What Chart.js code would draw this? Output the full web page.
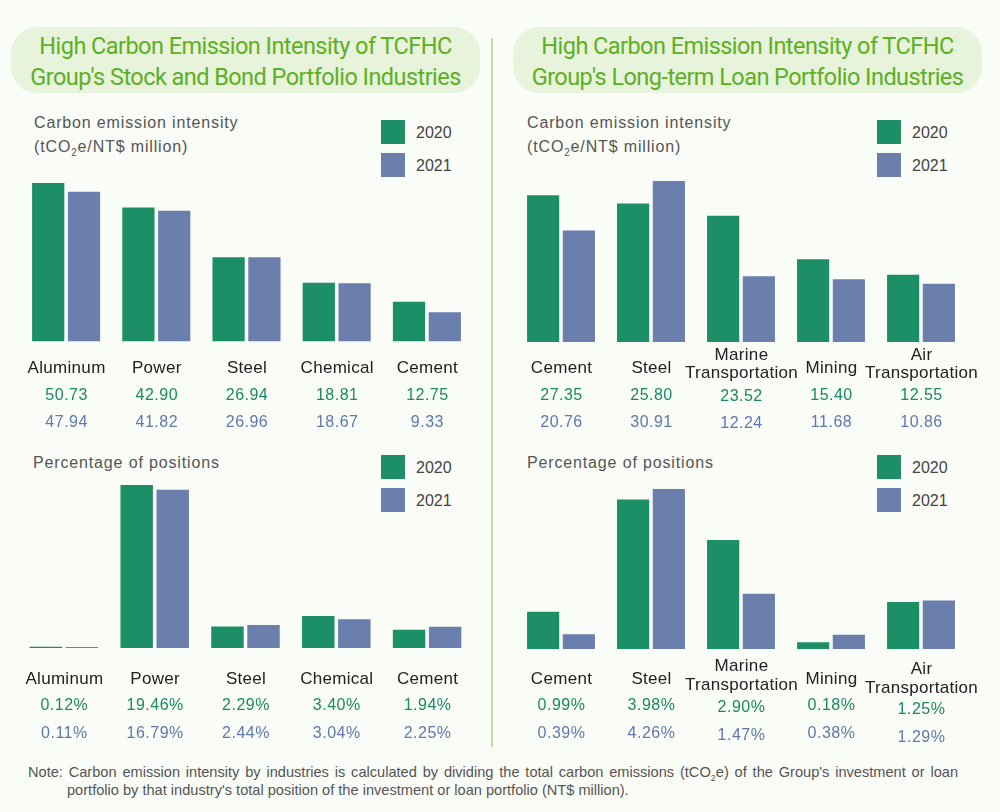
<!DOCTYPE html>
<html lang="en">
<head>
<meta charset="UTF-8">
<title>High Carbon Emission Intensity</title>
<script src="https://cdn.jsdelivr.net/npm/chart.js"></script>
<style>
  html, body { margin: 0; padding: 0; background: #fafcf7; }
  body { width: 1000px; height: 812px; position: relative; overflow: hidden; font-family: "Liberation Sans", sans-serif; }
  canvas { position: absolute; }
  .pill { position: absolute; top: 27px; height: 66px; width: 469px; border-radius: 26px; background: #e8f3dc; color: #5cb021;
          font-family: Roboto, sans-serif; font-size: 23.5px; letter-spacing: -0.55px; line-height: 31px; text-align: center; padding-top: 4px; box-sizing: border-box; white-space: nowrap; }
  .divider { position: absolute; left: 491px; top: 38px; width: 1.6px; height: 709px; background: #bfdda5; }
  .axis-title { position: absolute; color: #555; font-size: 16px; line-height: 24px; letter-spacing: 0.85px; white-space: nowrap; }
  .axis-title sub { font-size: 10px; line-height: 0; }
  .swatch { position: absolute; width: 24px; height: 24px; }
  .legend-text { position: absolute; color: #444; font-size: 16px; line-height: 24px; }
  .note { position: absolute; color: #555; font-size: 14.6px; line-height: 18px; white-space: nowrap; }
  .note sub { font-size: 9px; line-height: 0; }
</style>
</head>
<body>
  <div class="pill" style="left:11px">High Carbon Emission Intensity of TCFHC<br>Group's Stock and Bond Portfolio Industries</div>
  <div class="pill" style="left:513px">High Carbon Emission Intensity of TCFHC<br>Group's Long-term Loan Portfolio Industries</div>
  <div class="divider"></div>

  <div class="axis-title" style="left:34px;top:111px">Carbon emission intensity<br>(tCO<sub>2</sub>e/NT$ million)</div>
  <div class="axis-title" style="left:527px;top:111px">Carbon emission intensity<br>(tCO<sub>2</sub>e/NT$ million)</div>
  <div class="axis-title" style="left:33px;top:451px">Percentage of positions</div>
  <div class="axis-title" style="left:527px;top:451px">Percentage of positions</div>

  <div id="legends"></div>

  <canvas id="stockIntensity" width="490" height="340" style="left:1px;top:100px"></canvas>
  <canvas id="loanIntensity" width="490" height="340" style="left:496px;top:100px"></canvas>
  <canvas id="stockShare" width="490" height="310" style="left:0px;top:440px"></canvas>
  <canvas id="loanShare" width="490" height="310" style="left:496px;top:440px"></canvas>

  <div class="note" style="left:28px;top:763px;width:930px;text-align:justify;text-align-last:justify;white-space:normal">Note: Carbon emission intensity by industries is calculated by dividing the total carbon emissions (tCO<sub>2</sub>e) of the Group's investment or loan</div>
  <div class="note" style="left:67px;top:781px">portfolio by that industry's total position of the investment or loan portfolio (NT$ million).</div>

  <script>
    const years = ['2020', '2021'];
    const stockCategories = ['Aluminum', 'Power', 'Steel', 'Chemical', 'Cement'];
    const loanCategories = ['Cement', 'Steel', ['Marine', 'Transportation'], 'Mining', ['Air', 'Transportation']];

    const stockIntensity2020 = [50.73, 42.90, 26.94, 18.81, 12.75];
    const stockIntensity2021 = [47.94, 41.82, 26.96, 18.67, 9.33];
    const loanIntensity2020 = [27.35, 25.80, 23.52, 15.40, 12.55];
    const loanIntensity2021 = [20.76, 30.91, 12.24, 11.68, 10.86];
    const stockShare2020 = [0.12, 19.46, 2.29, 3.40, 1.94];
    const stockShare2021 = [0.11, 16.79, 2.44, 3.04, 2.25];
    const loanShare2020 = [0.99, 3.98, 2.90, 0.18, 1.25];
    const loanShare2021 = [0.39, 4.26, 1.47, 0.38, 1.29];

    const GREEN = '#1c8f66';
    const BLUE = '#6a7fae';
    const GREEN_TEXT = '#1a8a5f';
    const BLUE_TEXT = '#5f78ae';

    // legends, same spot in every panel
    const legends = document.getElementById('legends');
    [[381, 120], [877, 120], [381, 455], [877, 455]].forEach(([x, y]) => {
      years.forEach((yr, i) => {
        const box = document.createElement('div');
        box.className = 'swatch';
        box.style.cssText = `left:${x}px;top:${y + i * 33}px;background:${i ? BLUE : GREEN}`;
        legends.appendChild(box);
        const txt = document.createElement('div');
        txt.className = 'legend-text';
        txt.style.cssText = `left:${x + 35}px;top:${y + 1 + i * 33}px`;
        txt.textContent = yr;
        legends.appendChild(txt);
      });
    });

    // category names and printed values under the bars
    const underLabels = {
      id: 'underLabels',
      afterDraw(chart, args, opts) {
        const { ctx } = chart;
        const x = chart.scales.x;
        ctx.save();
        ctx.textAlign = 'center';
        ctx.textBaseline = 'middle';
        chart.data.labels.forEach((label, i) => {
          const cx = x.getPixelForTick(i) + 0.5;
          const shift = opts.shifts[i] || 0;
          ctx.font = '17px "Liberation Sans"';
          ctx.letterSpacing = '0.3px';
          ctx.fillStyle = '#222';
          if (Array.isArray(label)) {
            ctx.fillText(label[0], cx, opts.pairY[0] + (opts.pairShift[i] || 0));
            ctx.fillText(label[1], cx, opts.pairY[1] + (opts.pairShift[i] || 0));
          } else {
            ctx.fillText(label, cx, opts.nameY);
          }
          ctx.font = '16px "Liberation Sans"';
          ctx.letterSpacing = '0.5px';
          chart.data.datasets.forEach((ds, d) => {
            ctx.fillStyle = d ? BLUE_TEXT : GREEN_TEXT;
            ctx.fillText(ds.data[i].toFixed(2) + opts.suffix, cx, opts.rowY[d] + shift);
          });
        });
        ctx.restore();
      }
    };

    function makePanel(id, labels, first, second, cfg) {
      const canvas = document.getElementById(id);
      new Chart(canvas, {
        type: 'bar',
        data: {
          labels,
          datasets: [
            { label: years[0], data: first, backgroundColor: GREEN, clip: 0 },
            { label: years[1], data: second, backgroundColor: BLUE, clip: 0 }
          ]
        },
        plugins: [underLabels],
        options: {
          responsive: false,
          animation: false,
          categoryPercentage: 0.794,
          barPercentage: 0.9,
          layout: { padding: { top: cfg.top, bottom: cfg.bottom, left: cfg.left, right: cfg.right } },
          scales: {
            x: { display: false },
            // the tall bars in the reference stop at the panel top, so max can sit below the value
            y: { display: false, min: 0, max: cfg.max }
          },
          plugins: {
            legend: { display: false },
            tooltip: { enabled: false },
            underLabels: {
              suffix: cfg.suffix || '',
              nameY: cfg.nameY,
              pairY: cfg.pairY || [0, 0],
              pairShift: cfg.pairShift || {},
              rowY: cfg.rowY,
              shifts: cfg.shifts || {}
            }
          }
        }
      });
    }

    makePanel('stockIntensity', stockCategories, stockIntensity2020, stockIntensity2021, {
      left: 20, right: 19, top: 83, bottom: 340 - 241.5, max: 50.73, nameY: 268.5, rowY: [296, 323]
    });
    makePanel('loanIntensity', loanCategories, loanIntensity2020, loanIntensity2021, {
      left: 20, right: 20, top: 81, bottom: 340 - 242, max: 30, nameY: 268, pairY: [255, 273], rowY: [296, 323], shifts: { 2: 1 }
    });
    makePanel('stockShare', stockCategories, stockShare2020, stockShare2021, {
      left: 18.5, right: 17.5, top: 45, bottom: 310 - 208, max: 17.3, suffix: '%', nameY: 239, rowY: [266, 294]
    });
    makePanel('loanShare', loanCategories, loanShare2020, loanShare2021, {
      left: 20, right: 20, top: 49, bottom: 310 - 209, max: 4.26, suffix: '%', nameY: 239, pairY: [226, 245], pairShift: { 4: 3 },
      rowY: [266, 294], shifts: { 2: 2, 4: 4 }
    });
  </script>
</body>
</html>
